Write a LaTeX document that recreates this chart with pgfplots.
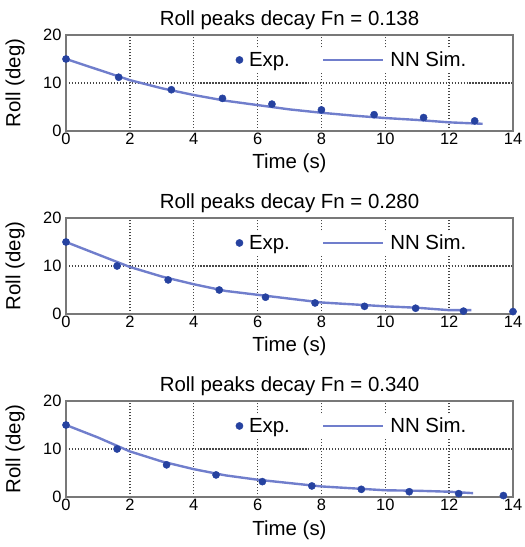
\documentclass[border=0pt]{standalone}
\usepackage{fontspec}
\setmainfont{Liberation Sans}
\usepackage{pgfplots}
\pgfplotsset{compat=1.18}

\definecolor{expblue}{RGB}{38,66,160}
\definecolor{simblue}{RGB}{112,126,204}
\definecolor{framegray}{RGB}{120,120,120}
\definecolor{gridgray}{RGB}{70,70,70}

\pgfplotsset{
  decaypanel/.style={
    scale only axis,
    width=447bp, height=96bp,
    xmin=0, xmax=14, ymin=0, ymax=20,
    xtick={0,2,...,14}, ytick={0,10,20},
    major tick length=0pt,
    axis line style={framegray, line width=1.8pt},
    grid=major,
    major grid style={gridgray, line width=1.4pt, dash pattern=on 1.4pt off 1.6pt},
    /pgf/number format/assume math mode=true,
    tick label style={font=\fontsize{16.5}{19}\selectfont},
    xticklabel style={yshift=1bp},
    yticklabel style={xshift=-1bp},
    label style={font=\fontsize{20.5}{24}\selectfont},
    title style={font=\fontsize{20.5}{24}\selectfont, at={(0.5,1)}, anchor=base, yshift=4bp},
    xlabel={Time (s)},
    ylabel={Roll (deg)},
    xlabel style={at={(0.5,0)}, anchor=base, yshift=-38bp},
    ylabel style={at={(0,0.5)}, anchor=center, yshift=51bp},
    clip=false,
    legend columns=2,
    legend style={
      at={(0.64,0.74)}, anchor=center,
      draw=none, fill=white,
      font=\fontsize{20.5}{24}\selectfont,
      /tikz/every even column/.append style={column sep=30bp},
      inner xsep=4bp, inner ysep=2bp,
    },
  },
  expdata/.style={only marks, mark=*, mark size=3.6bp, color=expblue},
  simdata/.style={color=simblue, line width=2.4pt,
    legend image code/.code={\draw[##1] (0bp,0bp) -- (60bp,0bp);}},
}

\begin{document}
\begin{tikzpicture}
\path[use as bounding box] (0bp,0bp) rectangle (525bp,547bp);

% Fn = 0.138
\begin{axis}[decaypanel, at={(66bp,416bp)}, anchor=south west,
  title={Roll peaks decay Fn = 0.138}]
\addplot[expdata] coordinates {
  (0,15.0) (1.65,11.2) (3.3,8.6) (4.9,6.8) (6.45,5.6)
  (8.0,4.4) (9.65,3.4) (11.2,2.8) (12.8,2.1)};
\addlegendentry{\hspace{4bp}Exp.}
\addplot[simdata] coordinates {
  (0,15.0) (1,12.8) (2,10.6) (3,8.9) (4,7.5) (5,6.3) (6,5.4)
  (7,4.5) (8,3.8) (9,3.2) (10,2.7) (11,2.3) (12,1.8) (13.05,1.5)};
\addlegendentry{\hspace{4bp}NN Sim.}
\end{axis}

% Fn = 0.280
\begin{axis}[decaypanel, at={(66bp,233bp)}, anchor=south west,
  title={Roll peaks decay Fn = 0.280}]
\addplot[expdata] coordinates {
  (0,15.0) (1.6,10.0) (3.2,7.1) (4.8,5.0) (6.25,3.5)
  (7.8,2.3) (9.35,1.6) (10.95,1.2) (12.45,0.6) (14.0,0.5)};
\addlegendentry{\hspace{4bp}Exp.}
\addplot[simdata] coordinates {
  (0,15.0) (1,12.4) (2,9.8) (3,7.8) (4,6.2) (5,4.8) (6,4.0)
  (7,3.2) (8,2.4) (9,2.0) (10,1.6) (11,1.3) (12,0.8) (12.7,0.8)};
\addlegendentry{\hspace{4bp}NN Sim.}
\end{axis}

% Fn = 0.340
\begin{axis}[decaypanel, at={(66bp,50bp)}, anchor=south west,
  title={Roll peaks decay Fn = 0.340}]
\addplot[expdata] coordinates {
  (0,15.0) (1.6,10.0) (3.15,6.7) (4.7,4.6) (6.15,3.2)
  (7.7,2.3) (9.25,1.6) (10.75,1.1) (12.3,0.7) (13.7,0.3)};
\addlegendentry{\hspace{4bp}Exp.}
\addplot[simdata] coordinates {
  (0,15.0) (1,12.4) (2,9.5) (3,7.4) (4,5.8) (5,4.5) (6,3.6)
  (7,2.9) (8,2.2) (9,1.8) (10,1.4) (11,1.3) (12,1.1) (12.75,0.8)};
\addlegendentry{\hspace{4bp}NN Sim.}
\end{axis}
\end{tikzpicture}
\end{document}
